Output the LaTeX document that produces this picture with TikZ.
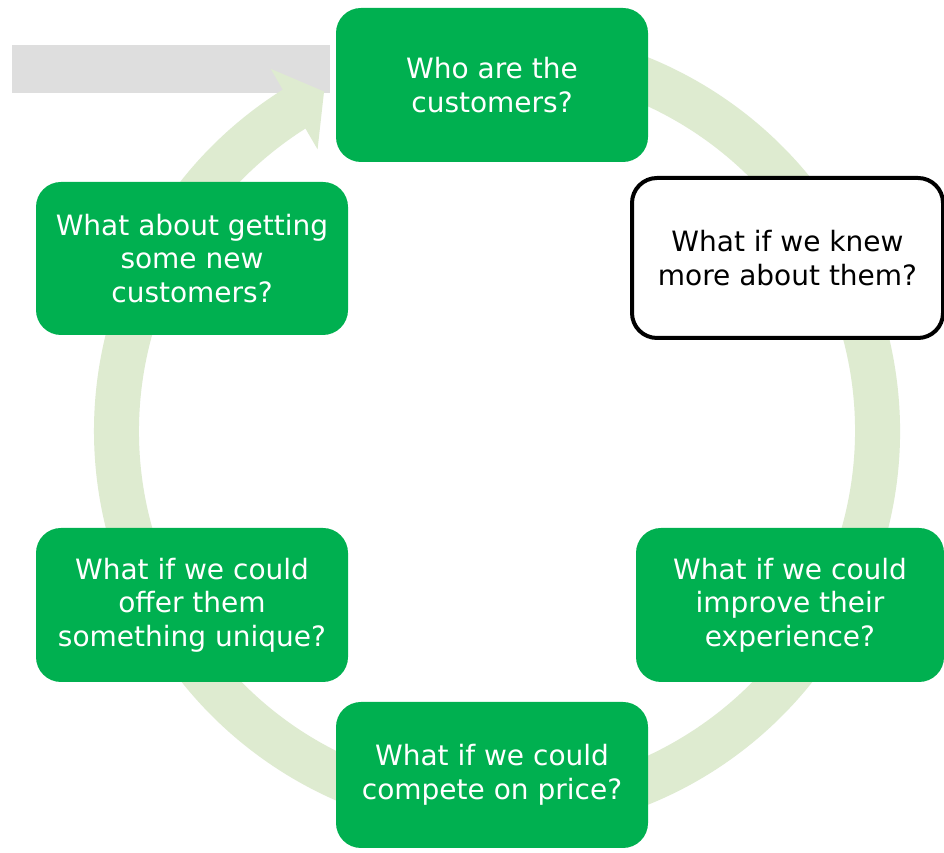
\documentclass[tikz,border=0pt]{standalone}
\usepackage{fontspec}
\setmainfont{DejaVu Sans}
\usetikzlibrary{calc}
\definecolor{boxgreen}{RGB}{0,176,80}
\definecolor{ringgreen}{RGB}{222,235,208}
\definecolor{bargrey}{RGB}{222,222,222}
\tikzset{
  question/.style={rectangle, rounded corners=25pt, inner sep=0pt, align=center,
    font=\fontsize{28}{33.5}\selectfont},
  greenq/.style={question, fill=boxgreen, text=white, minimum width=312pt},
  whiteq/.style={question, fill=white, draw=black, line width=4pt, text=black}
}
\begin{document}
\begin{tikzpicture}[x=1pt,y=1pt]
  \useasboundingbox (0,0) rectangle (944,853);
  \fill[white] (0,0) rectangle (944,853);

  % grey title bar
  \fill[bargrey] (12,760) rectangle (330,808);

  % circular arrow around the questions
  \coordinate (c) at (497,422);
  \fill[ringgreen]
    ($(c)+(100:403)$) arc[start angle=100, end angle=-238, radius=403]
    -- ($(c)+(-238:358)$) arc[start angle=-238, end angle=100, radius=358] -- cycle;
  \fill[ringgreen]
    ($(c)+(122:427)$) -- ($(c)+(117:381)$) -- ($(c)+(122.5:334)$) -- cycle;

  % the questions
  \node[greenq, minimum height=154pt] (who) at (492,768) {Who are the\\customers?};
  \node[whiteq, minimum width=311pt, minimum height=160pt] (knew) at (787.5,595)
    {What if we knew\\more about them?};
  \node[greenq, minimum width=308pt, minimum height=154pt] (improve) at (790,248)
    {What if we could\\improve their\\experience?};
  \node[greenq, minimum height=146pt] (price) at (492,78)
    {What if we could\\compete on price?};
  \node[greenq, minimum height=154pt] (unique) at (192,248)
    {What if we could\\offer them\\something unique?};
  \node[greenq, minimum height=153pt] (new) at (192,594.5)
    {What about getting\\some new\\customers?};
\end{tikzpicture}
\end{document}
